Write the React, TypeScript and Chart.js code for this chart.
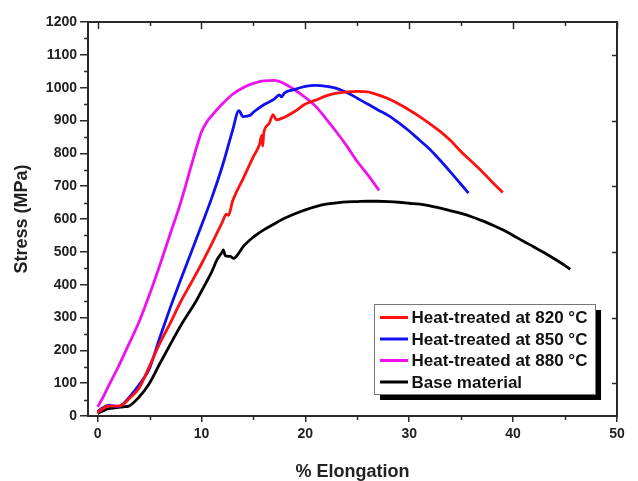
import React, { useEffect, useRef } from "react";
import { Chart, registerables } from "chart.js";

Chart.register(...registerables);

// ---- data ----
const strain820 = [0, 0.5, 1, 2, 2.5, 3, 4, 5, 6, 7, 8, 9, 10, 11, 12, 12.4, 12.6, 13, 14, 15, 15.6, 15.8, 15.9, 16, 16.5, 16.9, 17.2, 18, 19, 20, 21, 22, 23, 24, 25, 26, 27, 28, 29, 30, 31, 32, 33, 34, 35, 36, 37, 38, 39];
const stress820 = [10, 22, 30, 30, 36, 52, 85, 152, 222, 283, 348, 405, 463, 525, 590, 615, 611, 655, 722, 790, 828, 855, 822, 862, 890, 918, 902, 910, 928, 950, 962, 975, 983, 987, 989, 987, 978, 966, 950, 932, 912, 890, 866, 838, 805, 775, 745, 712, 681];

const strain850 = [0, 0.5, 1, 2, 2.5, 3, 4, 5, 6, 7, 8, 9, 10, 11, 12, 13, 13.6, 14, 14.7, 15, 16, 17, 17.5, 17.7, 18, 19, 20, 21, 22, 23, 24, 25, 26, 27, 28, 29, 30, 31, 32, 33, 34, 35, 35.7];
const stress850 = [13, 25, 32, 29, 38, 55, 95, 145, 240, 330, 415, 497, 580, 665, 760, 870, 930, 912, 916, 925, 948, 965, 978, 972, 984, 995, 1004, 1007, 1004, 998, 985, 968, 950, 932, 915, 893, 868, 840, 812, 778, 742, 705, 679];

const strain880 = [0, 0.5, 1, 2, 3, 4, 5, 6, 7, 8, 9, 9.5, 10, 10.5, 11, 12, 13, 14, 15, 16, 17, 18, 19, 20, 21, 22, 23, 24, 25, 26, 27.1];
const stress880 = [28, 55, 88, 150, 218, 287, 370, 460, 555, 650, 760, 815, 865, 895, 915, 950, 980, 1000, 1013, 1021, 1022, 1012, 993, 970, 943, 905, 865, 822, 775, 735, 687];

const strainBase = [0, 0.5, 1, 2, 2.5, 3, 4, 5, 6, 7, 8, 9, 9.56, 10, 11, 11.5, 12, 12.1, 12.3, 12.8, 13.1, 13.7, 14, 15, 16, 17, 18, 19, 20, 21, 22, 23, 24, 25, 26, 27, 28, 29, 30, 31, 32, 33, 34, 35, 36, 37, 38, 39, 40, 41, 42, 43, 44, 45, 45.5];
const stressBase = [8, 15, 22, 26, 28, 30, 58, 100, 160, 218, 275, 325, 354, 380, 440, 476, 500, 506, 488, 486, 480, 501, 515, 545, 567, 585, 602, 616, 628, 638, 645, 649, 652, 653, 654, 654, 653, 651, 648, 645, 640, 633, 625, 617, 607, 595, 582, 567, 550, 532, 515, 497, 478, 458, 447];

const seriesLabels = ["Heat-treated at 820 °C", "Heat-treated at 850 °C", "Heat-treated at 880 °C", "Base material"];
const seriesColors = ["#ff1010", "#1010ee", "#ee10ee", "#000000"];

const xMajorTicks = [0, 10, 20, 30, 40, 50];
const xMinorTicks = [5, 15, 25, 35, 45];
const yMajorTicks = [0, 100, 200, 300, 400, 500, 600, 700, 800, 900, 1000, 1100, 1200];
const yMinorTicks = [50, 150, 250, 350, 450, 550, 650, 750, 850, 950, 1050, 1150];
const yRightTicks = [100, 300, 500, 700, 900, 1100];

const xTitle = "% Elongation";
const yTitle = "Stress (MPa)";

const AXIS = "#2a2a2a";
const FONT = "'Liberation Sans', Arial, sans-serif";

const zip = (xs: number[], ys: number[]) => xs.map((x, i) => ({ x, y: ys[i] }));

const framePlugin = {
  id: "frameAndLegend",
  afterDraw(chart: any) {
    const { ctx, chartArea, scales } = chart;
    const { left, right, top, bottom } = chartArea;
    const xs = scales.x;
    const ys = scales.y;
    ctx.save();
    ctx.strokeStyle = AXIS;
    ctx.lineWidth = 2;
    ctx.beginPath();
    ctx.moveTo(left - 1, top);
    ctx.lineTo(right, top);
    ctx.lineTo(right, bottom + 1);
    ctx.stroke();

    ctx.lineWidth = 1.5;
    ctx.beginPath();
    for (const v of xMinorTicks) {
      const px = Math.round(xs.getPixelForValue(v)) + 0.5;
      ctx.moveTo(px, bottom);
      ctx.lineTo(px, bottom + 4);
      ctx.moveTo(px, top);
      ctx.lineTo(px, top + 4);
    }
    for (const v of xMajorTicks) {
      const px = Math.round(xs.getPixelForValue(v)) + 0.5;
      ctx.moveTo(px, top);
      ctx.lineTo(px, top + 7);
    }
    for (const v of yMinorTicks) {
      const py = Math.round(ys.getPixelForValue(v)) + 0.5;
      ctx.moveTo(left, py);
      ctx.lineTo(left - 4, py);
    }
    for (const v of yRightTicks) {
      const py = Math.round(ys.getPixelForValue(v)) + 0.5;
      ctx.moveTo(right, py);
      ctx.lineTo(right - 5, py);
    }
    ctx.stroke();

    // legend box
    const bx = right - 243;
    const by = bottom - 112;
    const bw = 221;
    const bh = 90;
    ctx.fillStyle = "#000";
    ctx.fillRect(bx + 6, by + 6, bw, bh);
    ctx.fillStyle = "#fff";
    ctx.fillRect(bx, by, bw, bh);
    ctx.strokeStyle = "#777";
    ctx.lineWidth = 1;
    ctx.strokeRect(bx + 0.5, by + 0.5, bw, bh);
    ctx.font = `bold 17px ${FONT}`;
    ctx.textBaseline = "middle";
    ctx.textAlign = "left";
    chart.data.datasets.forEach((ds: any, i: number) => {
      const cy = by + 13.5 + i * 21.5;
      ctx.strokeStyle = ds.borderColor;
      ctx.lineWidth = 3;
      ctx.beginPath();
      ctx.moveTo(bx + 6, cy);
      ctx.lineTo(bx + 34, cy);
      ctx.stroke();
      ctx.fillStyle = "#111";
      ctx.fillText(ds.label, bx + 37.5, cy + 1);
    });
    ctx.restore();
  },
};

export default function App() {
  const canvasRef = useRef<HTMLCanvasElement | null>(null);

  useEffect(() => {
    if (!canvasRef.current) return;
    const series = [
      zip(strain820, stress820),
      zip(strain850, stress850),
      zip(strain880, stress880),
      zip(strainBase, stressBase),
    ];
    const chart = new Chart(canvasRef.current, {
      type: "line",
      data: {
        datasets: series.map((d, i) => ({
          label: seriesLabels[i],
          data: d,
          borderColor: seriesColors[i],
          backgroundColor: seriesColors[i],
          borderWidth: 2.8,
          pointRadius: 0,
          fill: false,
          cubicInterpolationMode: "monotone" as const,
        })),
      },
      options: {
        animation: false,
        responsive: false,
        devicePixelRatio: 1,
        layout: { padding: { top: 22, right: 21, left: 0, bottom: 0 } },
        plugins: { legend: { display: false }, tooltip: { enabled: false } },
        scales: {
          x: {
            type: "linear",
            min: -0.92,
            max: 50,
            afterBuildTicks: (s: any) => {
              s.ticks = xMajorTicks.map((v) => ({ value: v }));
            },
            afterFit: (s: any) => {
              s.height = 65;
            },
            grid: { drawOnChartArea: false, drawTicks: true, tickLength: 6, tickColor: AXIS, lineWidth: 1.5 },
            border: { display: true, color: AXIS, width: 2 },
            ticks: {
              color: "#222",
              font: { family: FONT, size: 14, weight: "bold" },
              padding: 4,
              maxRotation: 0,
              callback: (v: any) => String(v),
            },
            title: {
              display: true,
              text: xTitle,
              color: "#222",
              font: { family: FONT, size: 18, weight: "bold", lineHeight: 1 },
              padding: { top: 0, bottom: 0 },
            },
          },
          y: {
            type: "linear",
            min: 0,
            max: 1200,
            afterBuildTicks: (s: any) => {
              s.ticks = yMajorTicks.map((v) => ({ value: v }));
            },
            afterFit: (s: any) => {
              s.width = 88;
            },
            grid: { drawOnChartArea: false, drawTicks: true, tickLength: 8, tickColor: AXIS, lineWidth: 1.5 },
            border: { display: true, color: AXIS, width: 2 },
            ticks: {
              color: "#222",
              font: { family: FONT, size: 14, weight: "bold" },
              padding: 3,
              callback: (v: any) => String(v),
            },
            title: {
              display: true,
              text: yTitle,
              color: "#222",
              font: { family: FONT, size: 18, weight: "bold", lineHeight: 1 },
              padding: { top: 13, bottom: 0 },
            },
          },
        },
      },
      plugins: [framePlugin],
    });
    return () => chart.destroy();
  }, []);

  return (
    <div style={{ position: "absolute", left: 0, top: 0, width: 638, height: 481, background: "#fff" }}>
      <canvas ref={canvasRef} width={638} height={481} />
    </div>
  );
}
